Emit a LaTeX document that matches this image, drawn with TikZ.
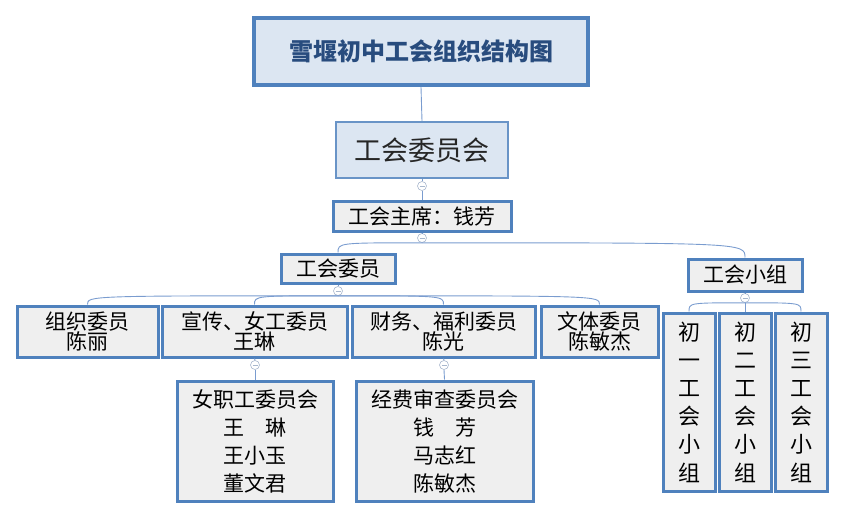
\documentclass[tikz,border=0pt]{standalone}
\usepackage{fontspec}
\newfontfamily\cjk{Noto Sans CJK SC}
\usetikzlibrary{positioning,calc}
\definecolor{boxblue}{HTML}{4F81BD}
\definecolor{headfill}{HTML}{DCE6F2}
\definecolor{boxgray}{HTML}{EFEFEF}
\definecolor{linkblue}{HTML}{7A9CCF}
\definecolor{foldgray}{HTML}{A9B8CE}
\definecolor{titleblue}{HTML}{284C7E}

\begin{document}
\begin{tikzpicture}[x=1pt, y=-1pt,
  unit/.style={draw=boxblue, line width=3pt, fill=boxgray, inner sep=0pt, align=center,
    font=\cjk\fontsize{21}{18}\selectfont},
  link/.style={draw=linkblue, line width=0.9pt},
  fold/.style={circle, draw=foldgray, fill=white, line width=0.6pt, minimum size=9pt, inner sep=0pt,
    path picture={\draw[foldgray, line width=0.6pt]
      ([xshift=2pt]path picture bounding box.west) -- ([xshift=-2pt]path picture bounding box.east);}}]
  \useasboundingbox (0,0) rectangle (844,519);

  % top of the tree
  \node[unit, line width=4pt, fill=headfill, text=titleblue, minimum width=334pt, minimum height=67pt,
    font=\cjk\bfseries\fontsize{24}{30}\selectfont] (title) at (421,51.5) {雪堰初中工会组织结构图};
  \node[unit, line width=2pt, draw=boxblue!85, fill=headfill, text=black!85, minimum width=172pt, minimum height=56pt,
    font=\cjk\fontsize{27}{32}\selectfont] (board) at (422,150) {工会委员会};
  \node[unit, minimum width=178pt, minimum height=30pt] (chair) at (422,216) {工会主席：钱芳};

  % second level
  \node[unit, minimum width=114pt, minimum height=29pt] (members) at (338,268.5) {工会委员};
  \node[unit, minimum width=114pt, minimum height=32pt] (groups) at (745,275) {工会小组};

  % committee members
  \node[unit, minimum width=141pt, minimum height=51pt] (org) at (87.5,331.5) {组织委员\\陈丽};
  \node[unit, minimum width=185pt, minimum height=51pt] (promo) at (254.5,331.5) {宣传、女工委员\\王琳};
  \node[unit, minimum width=183pt, minimum height=51pt] (fin) at (443.5,331.5) {财务、福利委员\\陈光};
  \node[unit, minimum width=117pt, minimum height=51pt] (sport) at (599.5,331.5) {文体委员\\陈敏杰};

  % sub-committees
  \node[unit, minimum width=156pt, minimum height=120pt, font=\cjk\fontsize{21}{28}\selectfont] (women) at (255,441)
    {女职工委员会\\王\quad 琳\\王小玉\\董文君};
  \node[unit, minimum width=177pt, minimum height=120pt, font=\cjk\fontsize{21}{28}\selectfont] (audit) at (444.5,441)
    {经费审查委员会\\钱\quad 芳\\马志红\\陈敏杰};

  % grade groups
  \node[unit, minimum width=52pt, minimum height=178pt, font=\cjk\fontsize{22}{28.2}\selectfont] (g1) at (689,402) {初\\一\\工\\会\\小\\组};
  \node[unit, minimum width=52pt, minimum height=178pt, font=\cjk\fontsize{22}{28.2}\selectfont] (g2) at (745,402) {初\\二\\工\\会\\小\\组};
  \node[unit, minimum width=52pt, minimum height=178pt, font=\cjk\fontsize{22}{28.2}\selectfont] (g3) at (801,402) {初\\三\\工\\会\\小\\组};

  % fold markers
  \node[fold] (f1) at (422,186) {};
  \node[fold] (f2) at (422,238) {};
  \node[fold] (f3) at (338,291) {};
  \node[fold] (f4) at (745,298) {};
  \node[fold] (f5) at (255,365) {};
  \node[fold] (f6) at (444,365) {};

  % connectors
  \draw[link] (title.south) -- (board.north);
  \draw[link] (board.south) -- (f1.north);
  \draw[link] (f1.south) -- (chair.north);
  \draw[link] (chair.south) -- (f2.north);
  \draw[link] (f2.south) .. controls (members.north |- f2.south) .. (members.north);
  \draw[link] (f2.south) .. controls (groups.north |- f2.south) .. (groups.north);
  \draw[link] (members.south) -- (f3.north);
  \foreach \kid in {org,promo,fin,sport}
    \draw[link] (f3.south) .. controls (\kid.north |- f3.south) .. (\kid.north);
  \draw[link] (groups.south) -- (f4.north);
  \draw[link] (f4.south) .. controls (g1.north |- f4.south) .. (g1.north);
  \draw[link] (f4.south) -- (g2.north);
  \draw[link] (f4.south) .. controls (g3.north |- f4.south) .. (g3.north);
  \draw[link] (promo.south) -- (f5.north);
  \draw[link] (f5.south) -- (women.north);
  \draw[link] (fin.south) -- (f6.north);
  \draw[link] (f6.south) -- (audit.north);
\end{tikzpicture}
\end{document}
